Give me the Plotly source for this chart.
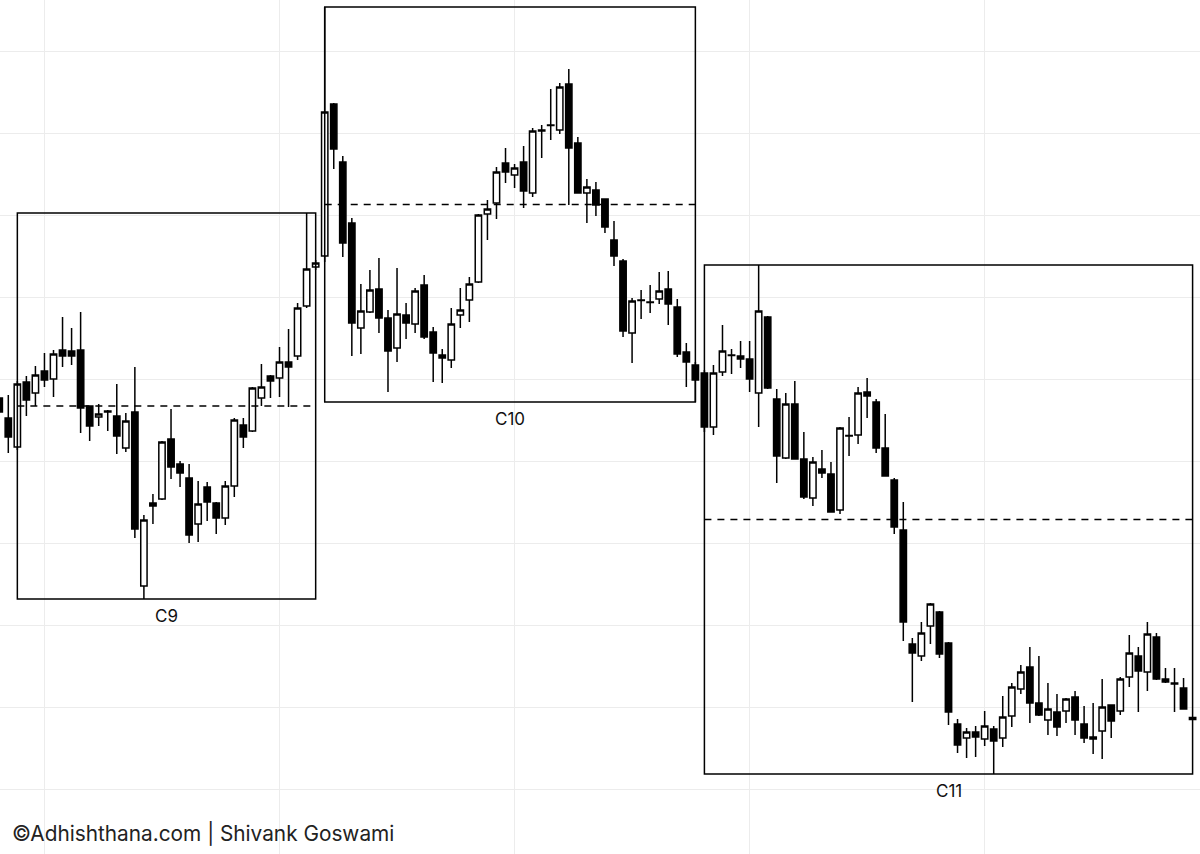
import plotly.graph_objects as go

# bar index (sequential trading sessions)
bar_index = list(range(-1, 132))

open_ = [60.2, 58.2, 55.3, 61.8, 60.7, 62.9, 62.1, 65.0, 64.9, 65.0,
         59.4, 58.3, 58.9, 58.4, 55.2, 58.8, 41.4, 49.7, 50.1, 56.1,
         53.6, 52.2, 47.6, 51.3, 49.7, 48.2, 51.4, 57.5, 56.9, 60.2,
         62.4, 62.2, 63.8, 64.4, 69.4, 73.3, 74.4, 89.6, 83.8, 77.7,
         67.2, 68.8, 71.1, 68.2, 65.2, 68.5, 67.6, 71.5, 66.8, 64.5,
         64.0, 68.5, 70.0, 71.8, 78.6, 79.7, 83.7, 82.5, 83.8, 80.7,
         87.0, 87.5, 87.0, 91.6, 85.7, 80.7, 81.0, 80.1, 76.0, 73.9,
         66.7, 70.0, 69.8, 70.1, 71.1, 69.3, 64.8, 63.5, 62.7, 57.3,
         62.8, 64.5, 64.4, 64.1, 60.7, 68.3, 60.1, 54.2, 59.6, 54.1,
         50.2, 53.1, 52.6, 49.0, 56.45, 56.5, 60.8, 59.8, 55.2, 52.0,
         47.0, 35.6, 34.4, 37.4, 38.8, 35.7, 27.6, 26.2, 26.8, 26.1,
         27.1, 26.2, 28.4, 31.1, 33.3, 29.7, 28.0, 28.8, 28.9, 30.3,
         27.6, 26.3, 26.9, 29.5, 28.9, 32.3, 34.4, 32.8, 36.3, 32.1,
         31.7, 31.2, 28.25]

high = [60.5, 60.5, 61.9, 62.4, 63.4, 64.7, 65.0, 68.3, 67.2, 68.8,
        59.4, 59.6, 59.0, 61.6, 58.7, 63.3, 48.5, 50.6, 55.9, 59.1,
        53.9, 53.6, 51.9, 51.8, 49.8, 51.9, 58.2, 58.2, 61.3, 63.6,
        62.5, 65.3, 67.1, 69.7, 78.7, 74.0, 99.3, 89.7, 84.4, 78.2,
        71.6, 73.0, 74.2, 69.0, 73.2, 69.7, 71.2, 72.5, 67.3, 65.1,
        69.2, 71.2, 72.3, 78.6, 80.0, 83.3, 85.2, 83.6, 85.4, 87.2,
        87.5, 91.1, 91.7, 93.1, 86.3, 82.1, 81.8, 80.1, 77.9, 74.1,
        70.2, 71.0, 71.5, 72.8, 72.9, 70.1, 65.7, 63.8, 63.0, 63.5,
        67.5, 65.1, 65.9, 65.9, 73.5, 68.4, 61.1, 60.7, 61.9, 56.8,
        54.3, 55.0, 53.8, 57.3, 58.3, 61.3, 62.2, 60.1, 58.6, 52.2,
        49.8, 36.2, 37.8, 39.7, 38.9, 35.8, 28.1, 27.2, 27.4, 28.9,
        27.4, 30.4, 31.7, 33.5, 35.3, 34.4, 31.7, 30.6, 30.2, 30.9,
        29.4, 29.7, 32.1, 29.5, 32.3, 36.5, 35.3, 37.8, 36.7, 33.2,
        33.2, 32.2, 28.3]

low = [58.6, 54.7, 55.0, 58.4, 59.4, 61.3, 60.3, 63.3, 63.5, 56.7,
       55.9, 57.4, 56.9, 54.6, 54.8, 46.2, 40.1, 47.6, 50.0, 52.1,
       51.3, 45.7, 45.8, 47.9, 46.6, 47.5, 50.3, 55.2, 56.8, 59.4,
       60.2, 60.3, 59.3, 64.0, 69.2, 73.0, 73.8, 83.1, 74.3, 64.4,
       64.6, 68.7, 66.7, 60.8, 63.8, 66.1, 66.7, 66.1, 61.8, 61.7,
       63.2, 67.2, 67.8, 71.7, 76.0, 78.1, 81.7, 81.2, 79.2, 80.3,
       84.2, 86.0, 86.6, 79.5, 80.7, 77.7, 78.4, 76.7, 73.4, 66.3,
       63.7, 68.1, 68.7, 69.6, 67.5, 64.3, 61.3, 59.8, 56.8, 56.5,
       62.4, 62.6, 63.2, 60.8, 57.3, 61.1, 51.7, 54.1, 54.1, 50.1,
       49.4, 52.2, 48.8, 48.6, 54.4, 55.6, 58.2, 54.7, 52.4, 46.6,
       35.9, 29.8, 33.9, 35.6, 34.2, 27.5, 24.7, 24.2, 24.3, 25.4,
       22.6, 25.3, 27.3, 30.6, 27.7, 28.4, 26.5, 26.4, 27.7, 26.5,
       25.7, 24.6, 24.1, 26.2, 28.5, 31.3, 28.8, 30.9, 32.0, 31.7,
       28.8, 29.1, 28.0]

close = [58.8, 56.3, 61.6, 60.0, 62.5, 62.0, 64.6, 64.4, 64.4, 59.2,
         57.4, 58.6, 58.8, 56.4, 57.9, 47.1, 48.0, 49.4, 55.8, 53.3,
         52.7, 46.5, 49.6, 49.8, 48.2, 51.4, 58.0, 56.3, 61.2, 61.3,
         61.9, 63.8, 63.3, 69.2, 73.1, 73.7, 88.8, 85.1, 75.7, 67.7,
         68.9, 71.0, 68.2, 64.9, 68.6, 67.7, 70.9, 66.3, 64.7, 64.2,
         67.6, 69.0, 71.6, 78.5, 79.1, 82.8, 82.8, 83.2, 80.9, 86.9,
         86.9, 87.45, 91.3, 85.2, 80.7, 81.3, 79.5, 77.3, 74.4, 66.9,
         69.9, 69.95, 69.75, 70.9, 69.6, 64.6, 63.8, 62.0, 57.3, 62.7,
         64.9, 64.45, 64.1, 62.1, 68.9, 61.2, 54.4, 59.6, 54.1, 50.3,
         53.8, 52.7, 48.8, 57.2, 56.4, 60.7, 60.4, 55.2, 52.4, 47.3,
         37.8, 34.7, 36.7, 39.6, 34.6, 28.8, 25.5, 26.8, 26.3, 27.4,
         25.9, 28.3, 31.3, 32.8, 29.7, 28.5, 29.1, 27.3, 30.1, 28.0,
         26.2, 26.1, 29.3, 27.9, 32.1, 34.7, 32.9, 36.6, 32.1, 31.8,
         31.6, 29.1, 28.05]

# cycles: first and last bar of each
cycle_names = ["C9", "C10", "C11"]
cycle_start = [1, 35, 77]
cycle_end = [34, 76, 131]

credit = "©Adhishthana.com | Shivank Goswami"

FONT = "Inter, Liberation Sans, Arial, sans-serif"

fig = go.Figure()
fig.add_trace(go.Candlestick(
    x=bar_index, open=open_, high=high, low=low, close=close,
    increasing=dict(fillcolor="white", line=dict(color="black", width=1.5)),
    decreasing=dict(fillcolor="black", line=dict(color="black", width=1.5)),
    whiskerwidth=0, showlegend=False, hoverinfo="skip",
))

pos = {b: k for k, b in enumerate(bar_index)}
shapes = []
annotations = []
for name, s, e in zip(cycle_names, cycle_start, cycle_end):
    ks = range(pos[s], pos[e] + 1)
    top = max(high[k] for k in ks)
    bot = min(low[k] for k in ks)
    mid = (top + bot) / 2
    shapes.append(dict(type="rect", xref="x", yref="y", x0=s, x1=e, y0=bot, y1=top,
                       line=dict(color="black", width=1.5), fillcolor="rgba(0,0,0,0)", layer="above"))
    shapes.append(dict(type="line", xref="x", yref="y", x0=s, x1=e, y0=mid, y1=mid,
                       line=dict(color="black", width=1.5, dash="7px,6px"), layer="above"))
    annotations.append(dict(x=(s + e) / 2, y=bot, xref="x", yref="y", text=name,
                            showarrow=False, yanchor="top", yshift=-5,
                            font=dict(family=FONT, size=17, color="#111")))

annotations.append(dict(x=10 / 1200, y=(854 - 833) / 854, xref="paper", yref="paper",
                        text=credit, showarrow=False, xanchor="left", yanchor="middle",
                        font=dict(family=FONT, size=20.8, color="#222")))

fig.update_layout(
    width=1200, height=854,
    margin=dict(l=0, r=0, t=0, b=0),
    paper_bgcolor="white", plot_bgcolor="white",
    shapes=shapes, annotations=annotations,
    boxgap=0.3, boxgroupgap=0,
    xaxis=dict(range=[-0.918, 131.82], rangeslider=dict(visible=False),
               showticklabels=False, ticks="", showline=False, zeroline=False,
               showgrid=True, gridcolor="#ececec", gridwidth=1, tick0=4, dtick=26),
    yaxis=dict(range=[14.6, 100.0], showticklabels=False, ticks="", showline=False,
               zeroline=False, showgrid=True, gridcolor="#ececec", gridwidth=1,
               tick0=21.1, dtick=8.2),
)

fig.write_html("out.html", config={"displayModeBar": False},
               post_script="document.body.style.margin='0';document.body.style.padding='0';")
